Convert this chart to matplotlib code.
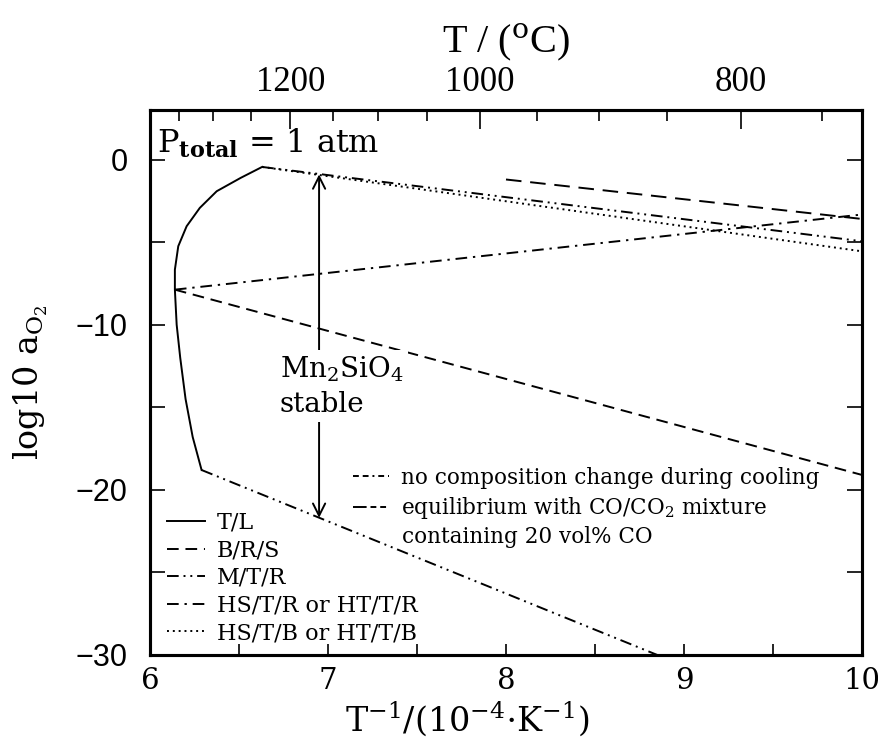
import matplotlib
matplotlib.use("Agg")
import matplotlib.pyplot as plt
from matplotlib.lines import Line2D
import numpy as np

plt.rcParams['mathtext.fontset'] = 'dejavuserif'
plt.rcParams['font.family'] = 'DejaVu Serif'

# T/L boundary (solid)
tl_x = [6.63, 6.51, 6.375, 6.28, 6.206, 6.159, 6.14, 6.14, 6.15, 6.17, 6.20, 6.24, 6.29]
tl_y = [-0.45, -1.11, -1.92, -2.93, -4.04, -5.25, -6.67, -7.88, -10.0, -12.0, -14.5, -16.8, -18.8]

# B/R/S lines (dashed)
brs_upper_x = [8.0, 10.0]
brs_upper_y = [-1.21, -3.6]
brs_lower_x = [6.14, 10.0]
brs_lower_y = [-7.88, -19.1]

# M/T/R lines (dash-dot-dot)
mtr_upper_x = [6.63, 10.0]
mtr_upper_y = [-0.45, -4.95]
mtr_lower_x = [6.29, 8.85]
mtr_lower_y = [-18.8, -30.0]

# HS/T/R or HT/T/R (dash-dot)
hstr_x = [6.14, 10.0]
hstr_y = [-7.88, -3.33]

# HS/T/B or HT/T/B (dotted)
hstb_x = [6.63, 10.0]
hstb_y = [-0.45, -5.56]

# Mn2SiO4 stability range
arrow_x = 6.95
arrow_top = -0.9
arrow_bottom = -21.7

top_ticks_c = [1200, 1000, 800]
top_minor_c = [1350, 1300, 1250, 1150, 1100, 1050, 950, 900, 850, 750]

fig = plt.figure(figsize=(8.79, 7.40), dpi=100)
ax = fig.add_axes([0.1706, 0.1149, 0.8101, 0.7365])

lw = 1.4
dash_b = (6, 3.5)
dash_dd = (6, 2.5, 1, 2.5, 1, 2.5)
dash_d = (6, 3, 1.2, 3)
dash_dot = (1, 2)
ax.plot(tl_x, tl_y, color='k', lw=lw)
ax.plot(brs_upper_x, brs_upper_y, color='k', lw=lw, dashes=(8, 4.5))
ax.plot(brs_lower_x, brs_lower_y, color='k', lw=lw, dashes=dash_b)
ax.plot(mtr_upper_x, mtr_upper_y, color='k', lw=lw, dashes=dash_dd)
ax.plot(mtr_lower_x, mtr_lower_y, color='k', lw=lw, dashes=dash_dd)
ax.plot(hstr_x, hstr_y, color='k', lw=lw, dashes=dash_d)
ax.plot(hstb_x, hstb_y, color='k', lw=lw, dashes=dash_dot)

ax.annotate('', xy=(arrow_x, arrow_top), xytext=(arrow_x, arrow_bottom),
            arrowprops=dict(arrowstyle='<->', color='k', lw=1.4,
                            mutation_scale=22, shrinkA=0, shrinkB=0))
box = dict(facecolor='white', edgecolor='none', pad=3)
ax.text(6.73, -13.2, 'Mn$_2$SiO$_4$', ha='left', va='baseline', fontsize=20, bbox=box)
ax.text(6.73, -15.27, 'stable', ha='left', va='baseline', fontsize=20, bbox=box)

ax.text(6.04, 0.42, r'P$_{\mathbf{total}}$ = 1 atm', fontsize=23, va='baseline')

ax.set_xlim(6, 10)
ax.set_ylim(-30, 3)
ax.set_xticks([6, 7, 8, 9, 10])
ax.set_xticks([6.5, 7.5, 8.5, 9.5], minor=True)
ax.set_yticks([0, -10, -20, -30])
ax.set_yticks([-5, -15, -25], minor=True)
ax.set_yticklabels(['0', '\u221210', '\u221220', '\u221230'], family='Liberation Sans')
ax.tick_params(axis='x', which='both', direction='in', length=8, width=1.2,
               labelsize=21, pad=9, top=False)
ax.tick_params(axis='y', which='both', direction='in', length=11, width=1.2,
               labelsize=22, pad=16, right=True)
for s in ax.spines.values():
    s.set_linewidth(2.2)

ax.set_xlabel(r'T$^{-1}$/(10$^{-4}$$\cdot$K$^{-1}$)', fontsize=24)
ax.xaxis.set_label_coords(0.445, -0.082)
ax.set_ylabel(r'log10 a$_{\mathrm{O_2}}$', fontsize=24)
ax.yaxis.set_label_coords(-0.14, 0.5)

# temperature axis on top
top = ax.twiny()
top.set_xlim(ax.get_xlim())
top.set_xticks([1e4 / (t + 273.15) for t in top_ticks_c])
top.set_xticks([1e4 / (t + 273.15) for t in top_minor_c], minor=True)
top.set_xticklabels([str(t) for t in top_ticks_c], family='Liberation Serif')
top.tick_params(axis='x', which='major', direction='in', length=14, width=1.2,
                labelsize=25, pad=8)
top.tick_params(axis='x', which='minor', direction='in', length=8, width=1.2)
top.set_xlabel(r'T / ($^{\mathrm{o}}$C)', fontsize=29, family='Liberation Serif',
               labelpad=10)
for s in top.spines.values():
    s.set_linewidth(2.2)

handles = [
    Line2D([], [], color='k', lw=lw),
    Line2D([], [], color='k', lw=lw, dashes=dash_b),
    Line2D([], [], color='k', lw=lw, dashes=dash_dd),
    Line2D([], [], color='k', lw=lw, dashes=dash_d),
    Line2D([], [], color='k', lw=lw, dashes=dash_dot),
]
names = ['T/L', 'B/R/S', 'M/T/R', 'HS/T/R or HT/T/R', 'HS/T/B or HT/T/B']
leg = ax.legend(handles, names, loc='lower left', bbox_to_anchor=(0.024, 0.02),
                frameon=False, fontsize=16, handlelength=1.7, handletextpad=0.55,
                labelspacing=0.25, borderaxespad=0, borderpad=0)
ax.add_artist(leg)

note_handles = [
    Line2D([], [], color='k', lw=lw, dashes=(3, 2, 3, 2, 1, 2)),
    Line2D([], [], color='k', lw=lw, dashes=(7, 2, 3, 2, 3, 2)),
]
note_names = ['no composition change during cooling',
              'equilibrium with CO/CO$_2$ mixture']
note = ax.legend(note_handles, note_names, loc='upper left', bbox_to_anchor=(0.285, 0.345),
                 frameon=False, fontsize=15.5, handlelength=1.7, handletextpad=0.55,
                 labelspacing=0.3, borderaxespad=0, borderpad=0)
ax.text(7.418, -23.25, 'containing 20 vol% CO', fontsize=15.5, ha='left', va='baseline')

fig.savefig('out.png', dpi=100)
